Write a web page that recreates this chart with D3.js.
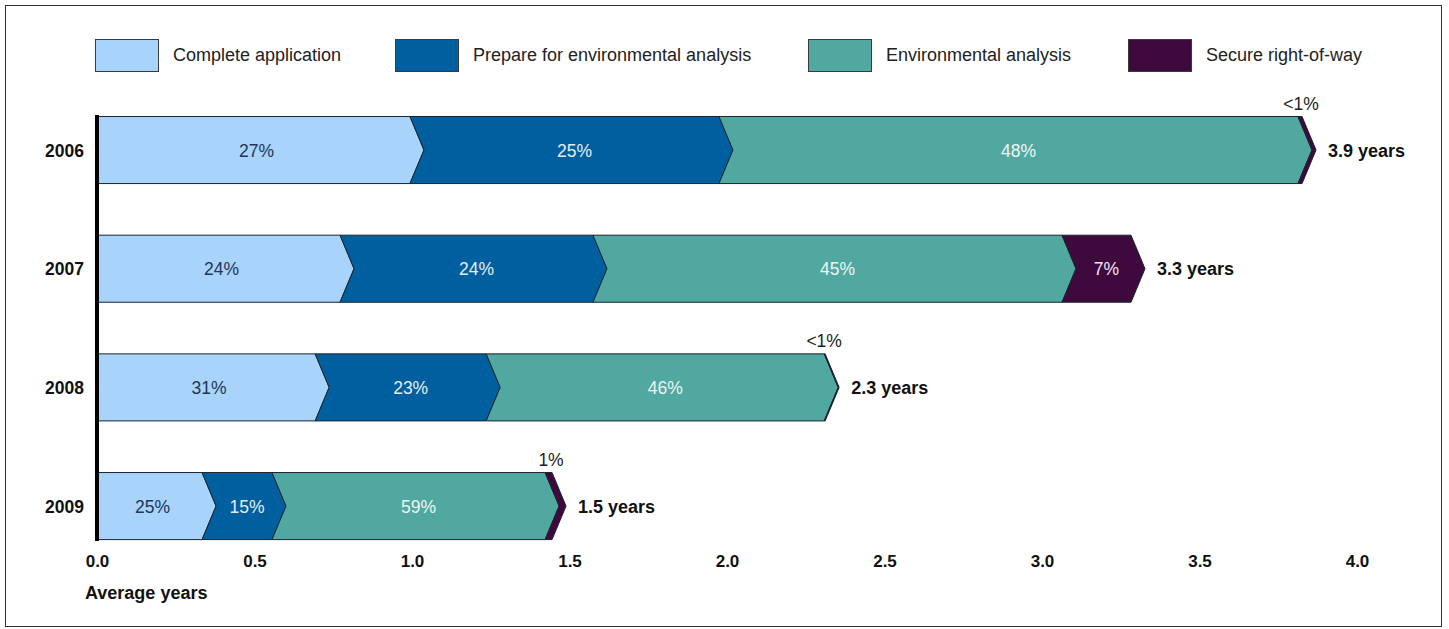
<!DOCTYPE html>
<html>
<head>
<meta charset="utf-8">
<script src="https://cdn.jsdelivr.net/npm/d3@7/dist/d3.min.js"></script>
<style>
  html, body { margin: 0; padding: 0; background: #fff; }
  svg { display: block; font-family: "Liberation Sans", Arial, Helvetica, sans-serif; }
</style>
</head>
<body>
<svg id="chart" width="1449" height="629"></svg>
<script>
// ---- data ----
const years = ["2006", "2007", "2008", "2009"];
const seriesNames = ["Complete application", "Prepare for environmental analysis", "Environmental analysis", "Secure right-of-way"];
const completeApplication = [1.038, 0.816, 0.737, 0.378];
const prepareEnvAnalysis = [0.981, 0.803, 0.543, 0.222];
const environmentalAnalysis = [1.838, 1.489, 1.073, 0.867];
const secureRightOfWay = [0.013, 0.219, 0.003, 0.022];
const completeApplicationPct = ["27%", "24%", "31%", "25%"];
const prepareEnvAnalysisPct = ["25%", "24%", "23%", "15%"];
const environmentalAnalysisPct = ["48%", "45%", "46%", "59%"];
const secureRightOfWayPct = ["<1%", "7%", "<1%", "1%"];
const totalLabels = ["3.9 years", "3.3 years", "2.3 years", "1.5 years"];
const xTicks = [0, 0.5, 1, 1.5, 2, 2.5, 3, 3.5, 4];
const xAxisTitle = "Average years";

const seriesValues = [completeApplication, prepareEnvAnalysis, environmentalAnalysis, secureRightOfWay];
const seriesPct = [completeApplicationPct, prepareEnvAnalysisPct, environmentalAnalysisPct, secureRightOfWayPct];
const colors = ["#a8d3fb", "#005f9f", "#50a8a0", "#3e0a3d"];
const textColors = ["#1e3658", "#e6edf5", "#eef6f5", "#f3e3f1"];

// ---- layout ----
const svg = d3.select("#chart");
const x = d3.scaleLinear().domain([0, 4]).range([97, 1357]);
const y = d3.scaleBand().domain(years).range([116.5, 539.6]).paddingInner(0.435).paddingOuter(0);
const d = 14; // chevron depth

// frame
svg.append("rect").attr("x", 5.5).attr("y", 5.5).attr("width", 1436).attr("height", 621)
  .attr("fill", "none").attr("stroke", "#333").attr("stroke-width", 1);

// legend
const legendX = [95, 395, 808, 1128];
const lg = svg.append("g");
seriesNames.forEach((name, i) => {
  lg.append("rect").attr("x", legendX[i] + 0.5).attr("y", 39.5).attr("width", 63).attr("height", 32)
    .attr("fill", colors[i]).attr("stroke", "#3a3a3a").attr("stroke-width", 1);
  lg.append("text").attr("x", legendX[i] + 78).attr("y", 61).attr("font-size", 18)
    .attr("fill", "#222").text(name);
});

// bars
const gBars = svg.append("g");
years.forEach((yr, j) => {
  const top = y(yr), bh = y.bandwidth(), bot = top + bh, mid = top + bh / 2;
  let cum = 0;
  seriesValues.forEach((vals, i) => {
    const v = vals[j];
    const x0 = x(cum), x1 = x(cum + v);
    let pts;
    if (i === 0) {
      pts = [[x0, top], [x1 - d, top], [x1, mid], [x1 - d, bot], [x0, bot]];
    } else {
      pts = [[x0 - d, top], [x1 - d, top], [x1, mid], [x1 - d, bot], [x0 - d, bot], [x0, mid]];
    }
    gBars.append("polygon").attr("points", pts.map(p => p.join(",")).join(" "))
      .attr("fill", colors[i]).attr("stroke", "#1b2430").attr("stroke-width", 1).attr("stroke-linejoin", "miter");
    const w = x1 - x0;
    if (w > 30) {
      gBars.append("text").attr("x", (x0 + x1) / 2 - 4).attr("y", mid + 6.5)
        .attr("text-anchor", "middle").attr("font-size", 17.5).attr("fill", textColors[i])
        .text(seriesPct[i][j]);
    } else {
      gBars.append("text").attr("x", x1 - d - 1).attr("y", top - 7)
        .attr("text-anchor", "middle").attr("font-size", 17.5).attr("fill", "#222")
        .text(seriesPct[i][j]);
    }
    cum += v;
  });
  // total label
  gBars.append("text").attr("x", x(cum) + 12).attr("y", mid + 6.5)
    .attr("font-size", 18).attr("font-weight", "bold").attr("fill", "#111").text(totalLabels[j]);
  // year label
  svg.append("text").attr("x", 84).attr("y", mid + 6.5).attr("text-anchor", "end")
    .attr("font-size", 17.5).attr("font-weight", "bold").attr("fill", "#111").text(yr);
});

// vertical axis line
svg.append("line").attr("x1", x(0)).attr("x2", x(0)).attr("y1", 115).attr("y2", 541)
  .attr("stroke", "#000").attr("stroke-width", 4);

// x axis
const xAxis = d3.axisBottom(x).tickValues(xTicks).tickSize(0).tickPadding(14).tickFormat(d3.format(".1f"));
const gx = svg.append("g").attr("transform", "translate(0,541)").call(xAxis);
gx.select(".domain").remove();
gx.selectAll("text").attr("font-size", 17).attr("font-weight", "bold").attr("fill", "#111")
  .attr("font-family", "Liberation Sans, Arial, sans-serif");

svg.append("text").attr("x", 85).attr("y", 599).attr("font-size", 18).attr("font-weight", "bold")
  .attr("fill", "#111").text(xAxisTitle);
</script>
</body>
</html>
